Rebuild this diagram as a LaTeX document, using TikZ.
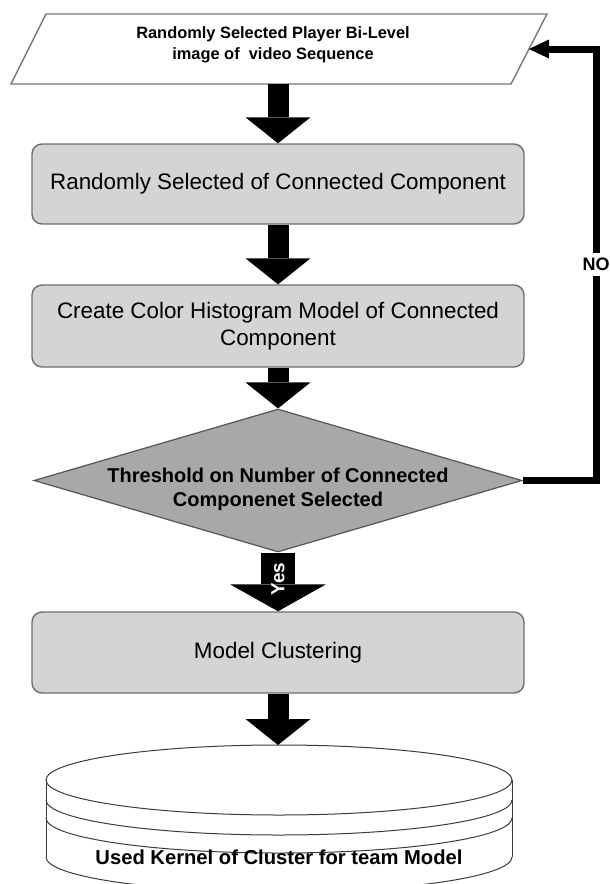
\documentclass[tikz,border=0pt]{standalone}
\usepackage{fontspec}
\setmainfont{Liberation Sans}
\usetikzlibrary{arrows.meta,shapes.geometric}

\definecolor{boxfill}{RGB}{212,212,212}
\definecolor{boxline}{RGB}{110,110,110}
\definecolor{decfill}{RGB}{168,168,168}
\definecolor{decline}{RGB}{85,85,85}
\definecolor{paraline}{RGB}{120,120,120}
\definecolor{diskline}{RGB}{60,60,60}

\begin{document}
\begin{tikzpicture}[x=1pt,y=-1pt,
    box/.style={rectangle,rounded corners=10pt,draw=boxline,fill=boxfill,line width=1.4pt,
      minimum width=492pt,align=center,font=\fontsize{22.4}{27}\selectfont},
    fat/.style={line width=21pt,-{Triangle[length=26pt,width=65pt,line width=0pt]}},
    fatyes/.style={line width=34pt,-{Triangle[length=27pt,width=96pt,line width=0pt]}},
    noline/.style={line width=7pt,-{Triangle[length=20pt,width=19pt,line width=0pt]}}]
    \useasboundingbox (0,0) rectangle (610,884);

    % input parallelogram
    \draw[draw=paraline,line width=1.4pt] (46,14) -- (547,14) -- (511,84) -- (11,84) -- cycle;
    \coordinate (inpS) at (278,84);
    \coordinate (inpE) at (529,49);
    \node[font=\bfseries\fontsize{16.4}{21.5}\selectfont,align=center] (inp) at (273,45)
      {Randomly Selected Player Bi-Level\\image of\ \ video Sequence};

    \node[box,minimum height=80pt] (sel) at (278,184) {Randomly Selected of Connected Component};
    \node[box,minimum height=82pt] (hist) at (278,326) {Create Color Histogram Model of Connected\\Component};

    \node[diamond,draw=decline,fill=decfill,line width=1.2pt,minimum width=488pt,minimum height=143pt,
      inner sep=0pt,shape aspect=3.4] (thr) at (278,480.5) {};
    \node[font=\bfseries\fontsize{20}{24}\selectfont,align=center] (thrText) at (278,489)
      {Threshold on Number of Connected\\Componenet Selected};

    \node[box,minimum height=81pt] (clu) at (278,652.5) {Model Clustering};

    % stacked disk
    \coordinate (diskTop) at (278,745);
    \begin{scope}[draw=diskline,line width=1pt]
      \draw (279,780) ellipse [x radius=233,y radius=35];
      \draw (46,780) -- (46,857) (512,780) -- (512,857);
      \foreach \y in {800,818,857}
        \draw (46,\y) arc [start angle=180,end angle=0,x radius=233,y radius=35];
    \end{scope}
    \node[font=\bfseries\fontsize{20.2}{24}\selectfont] (kern) at (279,857) {Used Kernel of Cluster for team Model};

    \draw[fat] (inpS) -- (sel.north);
    \draw[fat] (sel) -- (hist);
    \draw[fat] (hist) -- (thr);
    \draw[fatyes] (thr) -- node[pos=0.45,rotate=90,text=white,font=\bfseries\fontsize{19}{19}\selectfont] (yes) {Yes} (clu);
    \draw[fat] (clu) -- (diskTop);
    \draw[noline] (thr.east) -- (596,480.5) -- node[fill=white,inner sep=5pt,font=\bfseries\fontsize{18}{18}\selectfont] (no) {NO} (596,49) -- (inpE);
\end{tikzpicture}
\end{document}
